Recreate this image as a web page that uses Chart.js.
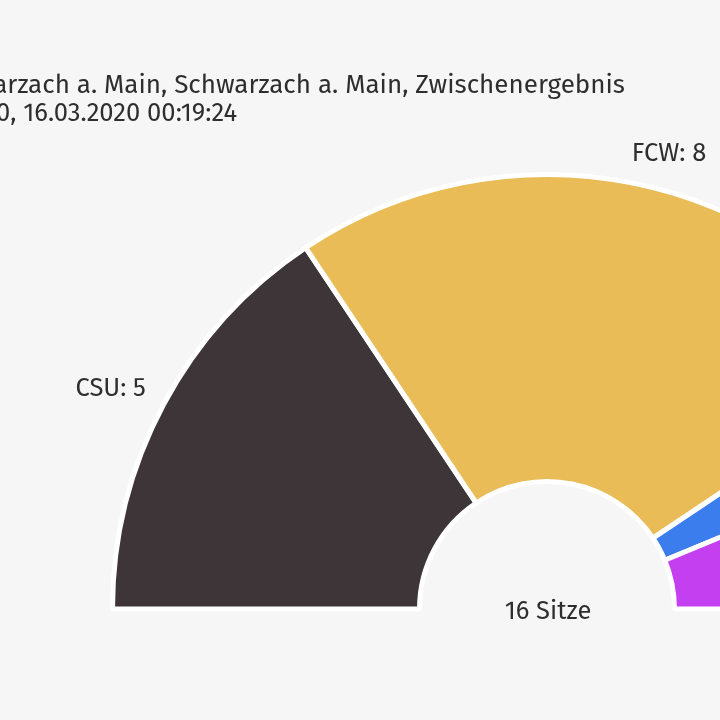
<!DOCTYPE html>
<html lang="de">
<head>
<meta charset="utf-8">
<title>Sitzverteilung Schwarzach a. Main</title>
<script src="https://cdn.jsdelivr.net/npm/chart.js@4.4.1/dist/chart.umd.min.js"></script>
<style>
  html, body { margin: 0; width: 720px; height: 720px; overflow: hidden; background: #f6f6f6; }
  #wrap { position: absolute; left: 0; top: 0; width: 1000px; height: 720px; }
</style>
</head>
<body>
<div id="wrap"><canvas id="seats"></canvas></div>
<script>
// Sitzverteilung (Zwischenergebnis)
const parties = ['CSU', 'FCW', 'FW', 'SPD'];
const seats = [5, 8, 1, 2];
const colors = ['#3e3539', '#e9bc57', '#3b7ded', '#c33ff0'];
const titleLines = [
    'Gemeinderatswahl Schwarzach a. Main, Schwarzach a. Main, Zwischenergebnis',
    'Kommunalwahl 2020, 16.03.2020 00:19:24'
];

const fontFamily = '"Fira Sans", "Open Sans", sans-serif';
const textColor = '#2e2e2e';

const seatLabels = {
    id: 'seatLabels',
    afterDatasetsDraw(chart) {
        const ctx = chart.ctx;
        const meta = chart.getDatasetMeta(0);
        const total = seats.reduce((a, b) => a + b, 0);
        let cx = 0, cy = 0;

        ctx.save();
        ctx.fillStyle = textColor;
        ctx.textBaseline = 'middle';
        ctx.font = '25.5px ' + fontFamily;
        meta.data.forEach((arc, i) => {
            const p = arc.getProps(['x', 'y', 'startAngle', 'endAngle', 'outerRadius'], true);
            const mid = (p.startAngle + p.endAngle) / 2;
            const r = p.outerRadius + 26;
            const left = Math.cos(mid) < 0;
            cx = p.x; cy = p.y;
            ctx.textAlign = left ? 'right' : 'left';
            ctx.fillText(parties[i] + ': ' + seats[i],
                p.x + Math.cos(mid) * r + (left ? 5 : -5),
                p.y + Math.sin(mid) * r - 3);
        });

        // Gesamtzahl in der Mitte
        ctx.textAlign = 'center';
        ctx.font = '25.5px ' + fontFamily;
        ctx.fillText(total + ' Sitze', cx + 1, cy + 3);

        // Titelzeilen
        ctx.textAlign = 'right';
        ctx.textBaseline = 'alphabetic';
        ctx.font = '26px ' + fontFamily;
        ctx.fillText(titleLines[0], 625, 93);
        ctx.font = '25.6px ' + fontFamily;
        ctx.fillText(titleLines[1], 237, 121);
        ctx.restore();
    }
};

new Chart(document.getElementById('seats'), {
    type: 'doughnut',
    data: {
        labels: parties,
        datasets: [{
            data: seats,
            backgroundColor: colors,
            borderColor: '#ffffff',
            borderWidth: 5
        }]
    },
    options: {
        responsive: true,
        maintainAspectRatio: false,
        animation: false,
        rotation: -90,
        circumference: 180,
        radius: 434.5,
        cutout: '29.34%',
        layout: {
            padding: { left: 112.5, top: 174.5, right: 18.5, bottom: 111 }
        },
        plugins: {
            legend: { display: false },
            tooltip: { enabled: false }
        }
    },
    plugins: [seatLabels]
});
</script>
</body>
</html>
